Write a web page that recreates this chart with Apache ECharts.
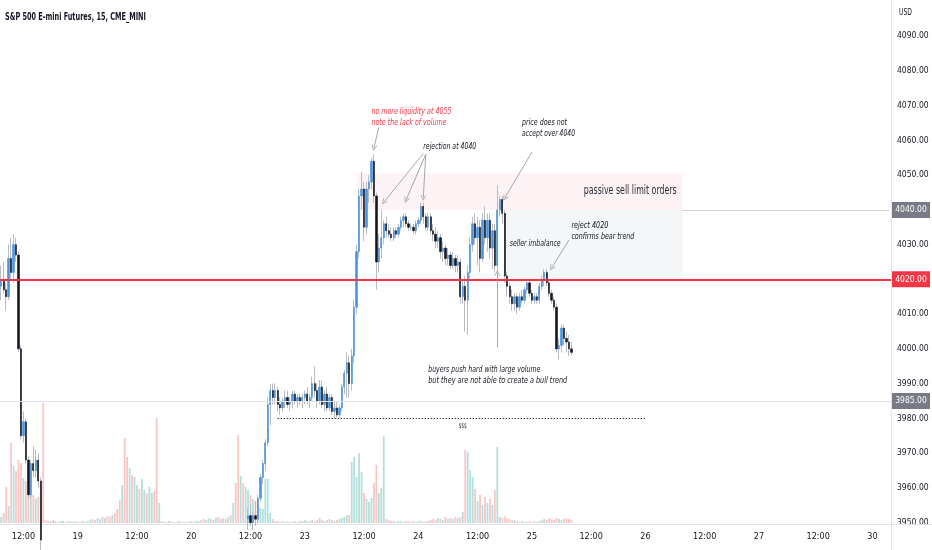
<!DOCTYPE html>
<html>
<head>
<meta charset="utf-8">
<script src="https://cdn.jsdelivr.net/npm/echarts@6.0.0/dist/echarts.min.js"></script>
<style>
html, body { margin: 0; padding: 0; background: #ffffff; }
#chartmain { width: 932px; height: 550px; }
</style>
</head>
<body>
<div id="chartmain"></div>
<script>
// 30 minute slots, first slot 18 Jan 07:30, CME session closed 17:00-18:00 and over the weekend
var slotCount = 361;

// [open, high, low, close]
var candlesAStart = 0;
var candlesA = [
    [4018, 4024, 4014, 4020], [4020, 4025, 4016, 4017], [4017, 4019, 4011, 4015], [4015, 4030, 4014, 4026],
    [4026, 4032, 4020, 4022], [4022, 4033, 4019, 4030], [4030, 4032, 4025, 4027], [4027, 4028, 3999, 4000],
    [4000, 4001, 3974, 3975], [3975, 3982, 3973, 3979], [3979, 3980, 3967, 3968], [3968, 3969, 3957, 3958],
    [3958, 3968, 3957, 3967], [3967, 3972, 3963, 3965], [3965, 3971, 3963, 3968], [3968, 3970, 3960, 3962],
    [3962, 3963, 3940, 3945]
];

var candlesBStart = 100;
var candlesB = [
    [3951, 3954, 3948, 3952], [3952, 3955, 3949, 3950], [3950, 3953, 3948, 3952], [3952, 3956, 3949, 3951],
    [3951, 3958, 3950, 3957], [3957, 3964, 3956, 3963], [3963, 3968, 3961, 3967], [3967, 3974, 3965, 3973],
    [3973, 3986, 3972, 3984], [3984, 3990, 3978, 3988], [3988, 3990, 3984, 3986], [3986, 3990, 3984, 3988],
    [3988, 3989, 3982, 3984], [3984, 3986, 3981, 3983], [3983, 3986, 3982, 3985], [3985, 3988, 3983, 3986],
    [3986, 3988, 3983, 3984], [3984, 3986, 3982, 3985], [3985, 3988, 3983, 3987], [3987, 3988, 3984, 3985],
    [3985, 3987, 3983, 3986], [3986, 3987, 3984, 3985], [3985, 3987, 3983, 3986], [3986, 3988, 3984, 3987],
    [3987, 3989, 3984, 3985], [3985, 3987, 3983, 3986], [3986, 3992, 3985, 3990], [3990, 3995, 3986, 3988],
    [3988, 3990, 3983, 3985], [3985, 3991, 3984, 3989], [3989, 3991, 3983, 3984], [3984, 3988, 3982, 3987],
    [3987, 3989, 3982, 3983], [3983, 3987, 3982, 3986], [3986, 3987, 3981, 3982], [3982, 3985, 3980, 3983],
    [3983, 3985, 3980, 3981], [3981, 3984, 3980, 3983], [3983, 3990, 3982, 3989], [3989, 3994, 3987, 3993],
    [3993, 3999, 3986, 3996], [3996, 3998, 3986, 3990], [3990, 4000, 3988, 3998], [3998, 4014, 3996, 4012],
    [4012, 4030, 4010, 4028], [4028, 4046, 4026, 4044], [4044, 4051, 4040, 4046], [4046, 4048, 4031, 4035],
    [4035, 4048, 4033, 4046], [4046, 4050, 4042, 4048], [4048, 4055, 4046, 4054], [4054, 4056, 4042, 4044],
    [4044, 4045, 4017, 4025], [4025, 4033, 4022, 4029], [4029, 4040, 4026, 4032], [4032, 4037, 4030, 4036],
    [4036, 4038, 4032, 4034], [4034, 4036, 4032, 4033], [4033, 4035, 4031, 4032], [4032, 4035, 4031, 4034],
    [4034, 4035, 4032, 4033], [4033, 4036, 4032, 4035], [4035, 4038, 4034, 4037], [4037, 4039, 4035, 4038],
    [4038, 4039, 4035, 4036], [4036, 4037, 4034, 4035], [4035, 4036, 4034, 4035], [4035, 4036, 4033, 4034],
    [4034, 4037, 4033, 4036], [4036, 4038, 4035, 4037], [4037, 4042, 4036, 4041], [4041, 4042, 4036, 4038],
    [4038, 4039, 4034, 4035], [4035, 4039, 4034, 4038], [4038, 4039, 4033, 4034], [4034, 4036, 4031, 4033],
    [4033, 4035, 4029, 4031], [4031, 4034, 4029, 4032], [4032, 4033, 4026, 4028], [4028, 4031, 4025, 4029],
    [4029, 4030, 4024, 4026], [4026, 4029, 4024, 4027], [4027, 4028, 4023, 4024], [4024, 4028, 4023, 4026],
    [4026, 4027, 4022, 4024], [4024, 4027, 4022, 4025], [4025, 4026, 4013, 4015], [4015, 4020, 4013, 4018],
    [4018, 4021, 4005, 4014], [4014, 4024, 4004, 4022], [4022, 4032, 4020, 4030], [4030, 4038, 4028, 4036],
    [4036, 4039, 4030, 4032], [4032, 4038, 4024, 4035], [4035, 4037, 4022, 4026], [4026, 4039, 4025, 4037],
    [4037, 4041, 4030, 4032], [4032, 4039, 4028, 4037], [4037, 4039, 4026, 4029], [4029, 4036, 4023, 4034],
    [4034, 4036, 4022, 4024], [4024, 4047, 4022, 4040], [4040, 4044, 4038, 4043], [4043, 4044, 4036, 4039],
    [4039, 4040, 4019, 4021], [4021, 4022, 4015, 4018], [4018, 4019, 4013, 4015], [4015, 4017, 4011, 4013],
    [4013, 4016, 4011, 4015], [4015, 4016, 4010, 4012], [4012, 4016, 4011, 4015], [4015, 4017, 4013, 4014],
    [4014, 4018, 4013, 4017], [4017, 4020, 4016, 4019], [4019, 4020, 4015, 4016], [4016, 4017, 4013, 4014],
    [4014, 4016, 4013, 4015], [4015, 4016, 4013, 4014], [4014, 4019, 4013, 4018], [4018, 4021, 4017, 4020],
    [4020, 4023, 4018, 4022], [4022, 4023, 4018, 4019], [4019, 4020, 4015, 4016], [4016, 4017, 4013, 4014],
    [4014, 4015, 4011, 4012], [4012, 4013, 3999, 4000], [4000, 4003, 3997, 4001], [4001, 4007, 3999, 4006],
    [4006, 4007, 4001, 4003], [4003, 4005, 3999, 4002], [4002, 4004, 3998, 4000], [4000, 4002, 3998, 3999]
];

// volume per slot (thousand contracts), slot 0 .. 231
var volume = [
    6, 10, 36, 17, 80, 57, 52, 63, 60, 45, 42, 35, 30, 28, 24, 26, 40,
    120,
    3, 2, 2, 3, 2, 1, 2, 2, 1, 2, 2, 1, 2,
    1, 1, 2, 1, 2, 3, 4, 3, 5, 4, 6, 5, 7, 6, 8, 10,
    14, 23, 38, 85, 66, 55, 48, 46, 38, 34, 44, 33, 30, 36, 30, 32, 105, 20,
    2, 1, 1, 2, 1, 1, 1, 2, 1, 1, 1, 1, 2, 1, 2, 2, 3, 4, 3, 5, 4, 3, 5, 6, 4, 5, 4, 6, 8,
    20, 40, 88, 47, 40, 36,
    33, 28, 24, 22, 18, 15, 14,
    44, 44, 10, 4,
    2, 2, 1, 2, 1, 2, 1, 1, 2, 1, 2, 2, 3, 2, 2, 3, 2, 3, 5, 3, 2, 3, 4, 3, 2, 3, 4, 5, 6, 8,
    8,
    61, 66, 46, 70, 51, 30, 24, 21, 25, 40, 58, 30, 35, 87, 4,
    3, 2, 2, 1, 2, 2, 1, 2, 2, 1, 2, 1, 2, 2, 1, 2, 2, 3, 4, 3, 5, 4, 3, 6, 4, 5, 4, 6, 5, 6,
    11,
    73, 71, 53, 46, 34, 22, 28, 18, 26, 20, 24, 18, 33, 76, 6,
    5, 7, 5, 4, 3, 3,
    2, 1, 2, 1, 1, 2, 1, 2, 1, 2,
    3, 4, 3, 5, 4, 3, 5, 4, 3, 4, 5, 4, 3
];

// up/down of the volume bars whose candles sit below the visible price range (slots 17 .. 99)
var hiddenSideStart = 17;
var hiddenSide = 'ddudduduudduud duuduudduududdud ddudduduuduuduuddu uddudduduudduduudduuduuddudud uddudu'.replace(/ /g, '');

var priceTags = [
    {value: 4040, bg: '#787b86'},
    {value: 4020, bg: '#f23645'},
    {value: 3985, bg: '#787b86'}
];

var FONT = "'DejaVu Sans Condensed', 'DejaVu Sans', sans-serif";
var UP = '#4a93de', DOWN = '#131722', WICK = '#b8bbc2';
var VOL_UP = 'rgba(38,166,154,0.35)', VOL_DOWN = 'rgba(239,83,80,0.33)';
var ARROW = '#a3a6af';
var CHEVRON = 'path://M0,10 L5,0 L10,10 L8.6,10 L5,3 L1.4,10 Z';

function pad(n) { return n < 10 ? '0' + n : '' + n; }

var categories = [];
var slotTime = new Date(2023, 0, 18, 7, 30).getTime();
while (categories.length < slotCount) {
    var slotDate = new Date(slotTime);
    var hr = slotDate.getHours(), wd = slotDate.getDay();
    var sessionShut = hr === 17 || wd === 6 || (wd === 5 && hr >= 17) || (wd === 0 && hr < 18);
    if (!sessionShut) {
        categories.push(slotDate.getDate() + ' ' + pad(hr) + ':' + pad(slotDate.getMinutes()));
    }
    slotTime += 30 * 60000;
}

var rows = [];
for (var k = 0; k < volume.length; k++) rows.push(null);
candlesA.forEach(function (r, j) { rows[candlesAStart + j] = r; });
candlesB.forEach(function (r, j) { rows[candlesBStart + j] = r; });

var EMPTY = ['-', '-', '-', '-'];
var wickData = rows.map(function (r) { return r ? [r[0], r[3], r[2], r[1]] : EMPTY; });
var bodyData = rows.map(function (r) {
    return r ? [r[0], r[3], Math.min(r[0], r[3]), Math.max(r[0], r[3])] : EMPTY;
});
var volData = volume.map(function (v, i) {
    var up = rows[i] ? rows[i][3] >= rows[i][0] : hiddenSide.charAt(i - hiddenSideStart) === 'u';
    return {value: v, itemStyle: {color: up ? VOL_UP : VOL_DOWN}};
});

function arrow(a, b) {
    return [
        {coord: a, symbol: 'none', lineStyle: {color: ARROW, width: 1, type: 'solid'}},
        {coord: b, symbol: CHEVRON, symbolSize: 6, lineStyle: {color: ARROW, width: 1, type: 'solid'}}
    ];
}

var myChart = echarts.init(document.getElementById('chartmain'));

var option = {
    animation: false,
    backgroundColor: '#ffffff',
    grid: [
        {left: -1.5, right: 41, top: 0, bottom: 26},
        {left: -1.5, right: 41, bottom: 27, height: 150}
    ],
    xAxis: [{
        type: 'category',
        gridIndex: 0,
        data: categories,
        boundaryGap: true,
        axisLine: {lineStyle: {color: '#e0e3eb'}},
        axisTick: {show: false},
        splitLine: {show: false},
        axisLabel: {
            margin: 8,
            color: '#131722',
            fontSize: 9,
            fontFamily: FONT,
            interval: function (idx, val) {
                var hm = val.split(' ')[1];
                return hm === '00:00' || hm === '12:00';
            },
            formatter: function (val) {
                var parts = val.split(' ');
                return parts[1] === '00:00' ? parts[0] : parts[1];
            }
        }
    }, {
        type: 'category',
        gridIndex: 1,
        data: categories,
        show: false
    }],
    yAxis: [{
        type: 'value',
        gridIndex: 0,
        position: 'right',
        min: 3949.6,
        max: 4100.4,
        splitNumber: 15,
        axisLine: {show: true, lineStyle: {color: '#e0e3eb'}},
        axisTick: {show: false},
        splitLine: {show: false},
        axisLabel: {
            margin: 6,
            color: '#131722',
            fontSize: 8.5,
            fontFamily: FONT,
            formatter: function (v) {
                var r = Math.round(v / 10) * 10;
                return (Math.abs(v - r) < 1e-6 && r <= 4090) ? r.toFixed(2) : '';
            }
        }
    }, {
        type: 'value',
        gridIndex: 1,
        min: 0,
        max: 150,
        show: false
    }],
    series: [{
        name: 'Volume',
        type: 'bar',
        xAxisIndex: 1,
        yAxisIndex: 1,
        barWidth: 1.8,
        data: volData
    }, {
        name: 'wick',
        type: 'candlestick',
        xAxisIndex: 0,
        yAxisIndex: 0,
        barWidth: 1,
        data: wickData,
        itemStyle: {color: WICK, color0: WICK, borderColor: WICK, borderColor0: WICK, borderWidth: 1},
        markArea: {
            silent: true,
            data: [
                [{coord: [143.7, 4050.5], itemStyle: {color: 'rgba(242,54,69,0.06)'}}, {coord: [275.6, 4040]}],
                [{coord: [203.6, 4040], itemStyle: {color: 'rgba(120,130,160,0.07)'}}, {coord: [275.6, 4020]}]
            ]
        },
        markLine: {
            silent: true,
            symbol: ['none', 'none'],
            label: {show: false},
            data: [
                {yAxis: 4020, lineStyle: {color: '#f23645', width: 2, type: 'solid'}},
                {yAxis: 3985, lineStyle: {color: '#e0e3eb', width: 1, type: 'solid'}},
                [{coord: [275.6, 4040], lineStyle: {color: '#d1d4dc', width: 1, type: 'solid'}},
                 {coord: [360, 4040], lineStyle: {color: '#d1d4dc', width: 1, type: 'solid'}}],
                [{coord: [111.8, 3980], lineStyle: {color: '#131722', width: 1, type: [1.2, 1.8]}},
                 {coord: [261.4, 3980], lineStyle: {color: '#131722', width: 1, type: [1.2, 1.8]}}],
                arrow([153.0, 4063.8], [151.0, 4057.8]),
                arrow([170.7, 4056.2], [154.6, 4042.2]),
                arrow([172.0, 4056.0], [163.9, 4042.8]),
                arrow([172.0, 4056.0], [170.8, 4043.4]),
                arrow([215.3, 4056.6], [204.4, 4043.4]),
                arrow([229.5, 4031.3], [222.6, 4023.3]),
                arrow([201.2, 4000.5], [201.2, 4021.8])
            ]
        }
    }, {
        name: 'body',
        type: 'candlestick',
        xAxisIndex: 0,
        yAxisIndex: 0,
        barWidth: 1.8,
        data: bodyData,
        itemStyle: {color: UP, color0: DOWN, borderColor: UP, borderColor0: DOWN, borderWidth: 0.6}
    }]
};

myChart.setOption(option);

// annotations anchored in data coordinates (slot index, price); w = printed width in px
var notes = [
    {i: 149.8, p: 4068.1, color: '#f23645', lines: [['no more liquidity at 4055', 80], ['note the lack of volume', 75]]},
    {i: 171.2, p: 4058.1, lines: [['rejection at 4040', 53]]},
    {i: 211.3, p: 4065.0, lines: [['price does not', 45], ['accept over 4040', 53]]},
    {i: 206.0, p: 4030.2, lines: [['seller imbalance', 51]]},
    {i: 230.7, p: 4035.3, lines: [['reject 4020', 37], ['confirms bear trend', 63]]},
    {i: 172.8, p: 3993.9, lines: [['buyers push hard with large volume', 112], ['but they are not able to create a bull trend', 139]]}
];

var measureCtx = document.createElement('canvas').getContext('2d');
function squeeze(text, font, width) {
    measureCtx.font = font;
    var w = measureCtx.measureText(text).width;
    return w > 0 ? width / w : 1;
}

function toPx(i, p) {
    return myChart.convertToPixel({xAxisIndex: 0, yAxisIndex: 0}, [i, p]);
}

function textEl(x, y, text, font, width, fill, align, z) {
    return {
        type: 'text', x: x, y: y, z: z || 50,
        scaleX: squeeze(text, font, width),
        style: {text: text, fill: fill, font: font, align: align || 'left', verticalAlign: 'middle'}
    };
}

var graphics = [];
var NOTE_FONT = 'italic 8.5px ' + FONT;
notes.forEach(function (n) {
    var pt = toPx(n.i, n.p);
    n.lines.forEach(function (line, j) {
        graphics.push(textEl(pt[0], pt[1] + j * 10.5, line[0], NOTE_FONT, line[1], n.color || '#131722'));
    });
});

var sellPt = toPx(236.4, 4045.4);
graphics.push(textEl(sellPt[0], sellPt[1], 'passive sell limit orders', '11.5px ' + FONT, 93, '#2a2e39'));
var cashPt = toPx(186.6, 3977.8);
graphics.push(textEl(cashPt[0], cashPt[1], '$$$', '7px ' + FONT, 8, '#131722', 'center'));

// cover for the price scale below the plot
graphics.push({type: 'rect', z: 90, shape: {x: 892, y: 524.5, width: 40, height: 26}, style: {fill: '#ffffff'}});
graphics.push({type: 'line', z: 91, shape: {x1: 891.5, y1: 524, x2: 891.5, y2: 550}, style: {stroke: '#e0e3eb', lineWidth: 1}});
graphics.push({type: 'line', z: 91, shape: {x1: 891.5, y1: 524.5, x2: 932, y2: 524.5}, style: {stroke: '#e0e3eb', lineWidth: 1}});

priceTags.forEach(function (tag) {
    var y = toPx(0, tag.value)[1];
    graphics.push({type: 'rect', z: 95, shape: {x: 892, y: y - 8, width: 38, height: 16}, style: {fill: tag.bg}});
    graphics.push({
        type: 'text', z: 96, x: 911, y: y,
        style: {text: tag.value.toFixed(2), fill: '#ffffff', font: '8.5px ' + FONT, align: 'center', verticalAlign: 'middle'}
    });
});

graphics.push(textEl(5, 17, 'S&P 500 E-mini Futures, 15, CME_MINI', 'bold 11px ' + FONT, 141, '#131722', 'left', 60));
graphics.push(textEl(899, 12.5, 'USD', '9px ' + FONT, 13, '#131722', 'left', 60));

myChart.setOption({graphic: graphics});
</script>
</body>
</html>
